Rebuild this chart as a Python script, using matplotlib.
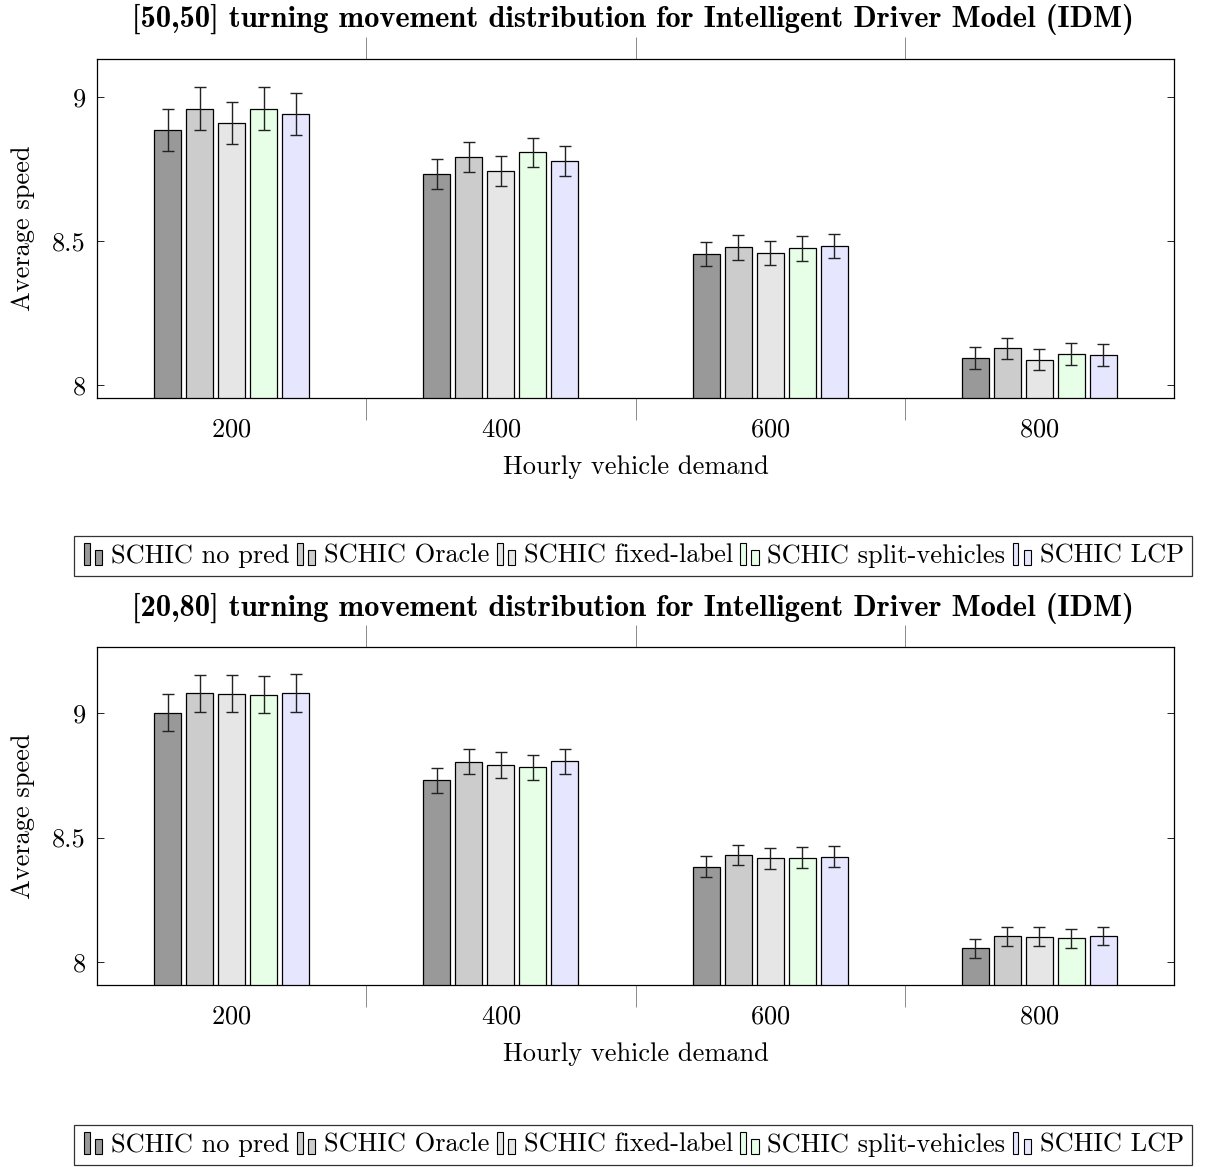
import numpy as np
import matplotlib
matplotlib.use("Agg")
import matplotlib.pyplot as plt
from matplotlib.patches import Rectangle
from matplotlib.legend_handler import HandlerBase

plt.rcParams['font.family'] = 'serif'
plt.rcParams['font.serif'] = ['cmr10']
plt.rcParams['mathtext.fontset'] = 'cm'
plt.rcParams['axes.formatter.use_mathtext'] = True

demand = [200, 400, 600, 800]
methods = ["SCHIC no pred", "SCHIC Oracle", "SCHIC fixed-label",
           "SCHIC split-vehicles", "SCHIC LCP"]
colors = ["#999999", "#cccccc", "#e6e6e6", "#e6ffe6", "#e6e6ff"]

# [50,50] panel
top_nopred = [8.884, 8.733, 8.455, 8.093]
top_oracle = [8.959, 8.791, 8.478, 8.127]
top_fixed = [8.910, 8.743, 8.459, 8.088]
top_split = [8.959, 8.808, 8.475, 8.109]
top_lcp = [8.942, 8.778, 8.482, 8.105]
top_err_nopred = [0.073, 0.051, 0.040, 0.038]
top_err_oracle = [0.075, 0.052, 0.043, 0.038]
top_err_fixed = [0.073, 0.051, 0.042, 0.037]
top_err_split = [0.075, 0.051, 0.043, 0.038]
top_err_lcp = [0.073, 0.051, 0.042, 0.038]

# [20,80] panel
bot_nopred = [9.001, 8.730, 8.383, 8.055]
bot_oracle = [9.079, 8.804, 8.430, 8.103]
bot_fixed = [9.078, 8.792, 8.416, 8.102]
bot_split = [9.073, 8.782, 8.419, 8.095]
bot_lcp = [9.080, 8.806, 8.423, 8.104]
bot_err_nopred = [0.074, 0.050, 0.042, 0.037]
bot_err_oracle = [0.075, 0.050, 0.042, 0.038]
bot_err_fixed = [0.073, 0.051, 0.043, 0.037]
bot_err_split = [0.074, 0.051, 0.043, 0.038]
bot_err_lcp = [0.075, 0.051, 0.043, 0.037]

panels = [
    ("[50,50] turning movement distribution for Intelligent Driver Model (IDM)",
     [top_nopred, top_oracle, top_fixed, top_split, top_lcp],
     [top_err_nopred, top_err_oracle, top_err_fixed, top_err_split, top_err_lcp],
     (7.955, 9.132)),
    ("[20,80] turning movement distribution for Intelligent Driver Model (IDM)",
     [bot_nopred, bot_oracle, bot_fixed, bot_split, bot_lcp],
     [bot_err_nopred, bot_err_oracle, bot_err_fixed, bot_err_split, bot_err_lcp],
     (7.908, 9.265)),
]


class TwoBars(HandlerBase):
    def create_artists(self, legend, orig_handle, xdescent, ydescent,
                       width, height, fontsize, trans):
        fc = orig_handle.get_facecolor()
        x0, y0 = -xdescent, -ydescent
        r1 = Rectangle((x0 + 0.08 * width, y0 - 0.1 * height), 0.25 * width, 1.2 * height,
                       facecolor=fc, edgecolor="black", lw=0.8, transform=trans)
        r2 = Rectangle((x0 + 0.55 * width, y0 - 0.1 * height), 0.3 * width, 0.8 * height,
                       facecolor=fc, edgecolor="black", lw=0.8, transform=trans)
        return [r1, r2]


W, H = 1207, 1167
fig = plt.figure(figsize=(W / 100, H / 100), dpi=100)

axes_px = [(59, 398), (647, 985)]
legend_y = [556, 1145]
title_y = [19, 608]
fs = 19

pitch = 23.8
bw = 20
x = np.array(demand, dtype=float)

for k, (title, vals, errs, ylim) in enumerate(panels):
    top, bot = axes_px[k]
    ax = fig.add_axes([97 / W, 1 - bot / H, 1077 / W, (bot - top) / H])
    handles = []
    for i in range(5):
        b = ax.bar(x + (i - 2) * pitch, vals[i], width=bw, color=colors[i],
                   edgecolor="black", linewidth=0.9, zorder=2)
        ax.errorbar(x + (i - 2) * pitch, vals[i], yerr=errs[i], fmt="none",
                    ecolor="#222222", elinewidth=1.0, capsize=4, capthick=1.0, zorder=3)
        handles.append(b.patches[0])
    ax.set_xlim(100, 900)
    ax.set_ylim(*ylim)
    ax.set_xticks(demand)
    ax.set_xticks([300, 500, 700], minor=True)
    ax.set_yticks([8, 8.5, 9])
    ax.set_yticklabels(["8", "8.5", "9"])
    ax.tick_params(axis="x", which="major", length=0, labelsize=fs, pad=14)
    ax.tick_params(axis="x", which="minor", direction="out", length=16,
                   width=0.6, color="#777777", top=True, bottom=True)
    ax.tick_params(axis="y", which="major", direction="in", length=5,
                   width=0.6, left=True, right=True, labelsize=fs, pad=8)
    for s in ax.spines.values():
        s.set_linewidth(0.9)
    ax.set_xlabel("Hourly vehicle demand", fontsize=fs, labelpad=10)
    ax.set_ylabel("Average speed", fontsize=fs, labelpad=12)
    fig.text(633 / W, 1 - title_y[k] / H, title, fontsize=22, family="cmb10",
             ha="center", va="center")

    leg = fig.legend(handles, methods, loc="center",
                     bbox_to_anchor=(633 / W, 1 - legend_y[k] / H),
                     ncol=5, fontsize=fs, frameon=True, fancybox=False,
                     edgecolor="black", handlelength=0.9, handletextpad=0.2,
                     columnspacing=0.2, borderpad=0.3, borderaxespad=0,
                     handler_map={Rectangle: TwoBars()})
    leg.get_frame().set_linewidth(0.9)

fig.savefig("out.png", dpi=100)
